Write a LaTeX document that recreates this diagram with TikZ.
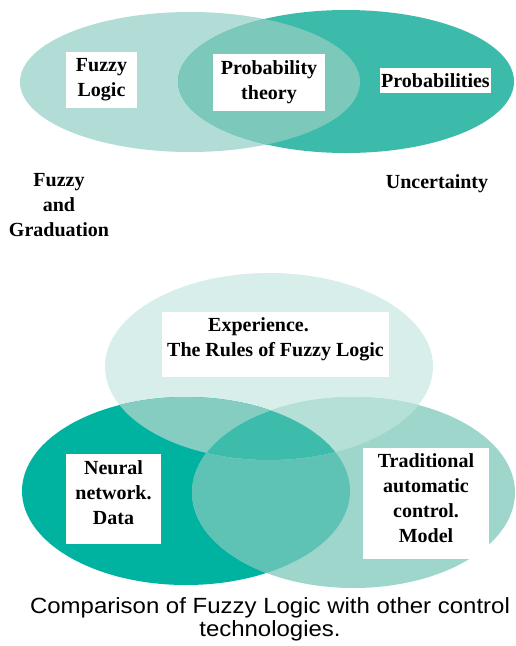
\documentclass[tikz,border=0pt]{standalone}
\usepackage{fontspec}
\usepackage{xcolor}
\setmainfont{Liberation Serif}
\newfontfamily\captionfont{Liberation Sans}[FakeStretch=1.09]
\definecolor{vennPale}{HTML}{B2DDD6}
\definecolor{vennTeal}{HTML}{3DBBAA}
\definecolor{vennMid}{HTML}{7CC8BB}
\definecolor{triTop}{HTML}{D8EEEA}
\definecolor{triLeft}{HTML}{00B3A0}
\definecolor{triRight}{HTML}{9ED6CC}
\definecolor{triTopLeft}{HTML}{86CDC1}
\definecolor{triTopRight}{HTML}{B5E0D8}
\definecolor{triLeftRight}{HTML}{5EC3B4}
\definecolor{triAll}{HTML}{3DBCAB}

\begin{document}
\begin{tikzpicture}[
    x=1pt, y=-1pt,
    txtbox/.style={rectangle, fill=white, inner sep=0pt, align=center, font=\fontsize{20}{25}\selectfont\bfseries},
    plain/.style={align=center, font=\fontsize{20}{25}\selectfont\bfseries},
    caption/.style={align=center, font=\captionfont\fontsize{22}{23}\selectfont}
]
\useasboundingbox (0,0) rectangle (515,646);

% upper diagram
\fill[vennPale] (190,82) ellipse [x radius=170pt, y radius=70pt];
\fill[vennTeal] (346,81.5) ellipse [x radius=168pt, y radius=71.5pt];
\begin{scope}
    \clip (190,82) ellipse [x radius=170pt, y radius=70pt];
    \fill[vennMid] (346,81.5) ellipse [x radius=168pt, y radius=71.5pt];
\end{scope}

\node[txtbox, minimum width=71pt, minimum height=56pt] (fuzzy) at (101.5,80) {Fuzzy\\Logic};
\node[txtbox, minimum width=112pt, minimum height=57pt] (probtheory) at (269,82.5) {Probability\\theory};
\node[txtbox, minimum width=111pt, minimum height=25pt] (probs) at (435.5,80.5) {Probabilities};
\node[plain] (graduation) at (59,205) {Fuzzy\\and\\Graduation};
\node[plain] (uncertainty) at (437,184) {Uncertainty};

% lower diagram
\fill[triTop] (269,366.5) ellipse [x radius=164pt, y radius=93.5pt];
\fill[triLeft] (186,491) ellipse [x radius=164pt, y radius=94pt];
\fill[triRight] (353.5,492.5) ellipse [x radius=161.5pt, y radius=95.5pt];
\begin{scope}
    \clip (186,491) ellipse [x radius=164pt, y radius=94pt];
    \fill[triLeftRight] (353.5,492.5) ellipse [x radius=161.5pt, y radius=95.5pt];
\end{scope}
\begin{scope}
    \clip (269,366.5) ellipse [x radius=164pt, y radius=93.5pt];
    \fill[triTopLeft] (186,491) ellipse [x radius=164pt, y radius=94pt];
    \fill[triTopRight] (353.5,492.5) ellipse [x radius=161.5pt, y radius=95.5pt];
    \clip (186,491) ellipse [x radius=164pt, y radius=94pt];
    \fill[triAll] (353.5,492.5) ellipse [x radius=161.5pt, y radius=95.5pt];
\end{scope}

% text sits a little above the middle of its box
\node[txtbox, minimum width=227pt, minimum height=65pt] (experience) at (275.5,344.5) {Experience.\hspace*{1.7em}\\The Rules of Fuzzy Logic\\[-11pt]\mbox{}};
\node[txtbox, minimum width=95pt, minimum height=90pt] (neural) at (113.5,499) {Neural\\network.\\Data\\[-13pt]\mbox{}};
\node[txtbox, minimum width=126pt, minimum height=111pt] (traditional) at (426,503.5) {Traditional\\automatic\\control.\\Model\\[-15pt]\mbox{}};

\node[caption] (comparison) at (270,619) {Comparison of Fuzzy Logic with other control\\technologies.};

\end{tikzpicture}
\end{document}
